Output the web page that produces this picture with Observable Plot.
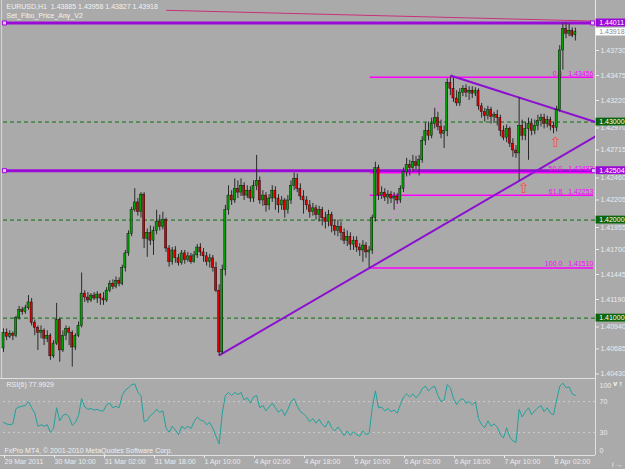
<!DOCTYPE html>
<html><head><meta charset="utf-8">
<script src="https://cdn.jsdelivr.net/npm/d3@7"></script>
<script src="https://cdn.jsdelivr.net/npm/@observablehq/plot@0.6"></script>
<style>
html,body{margin:0;padding:0;background:#aaaaaa;}
#chart{position:relative;width:625px;height:469px;background:#aaaaaa;overflow:hidden;}
#chart svg{position:absolute;left:0;}
</style></head><body><div id="chart"></div>
<script>
// ---- data (EURUSD H1, bar index 0 = 29 Mar 18:00) ----
const open = [
1.4069,1.4085,1.4081,1.4084,1.4082,1.4100,1.4108,1.4106,1.4110,1.4116,1.4095,1.4090,1.4085,1.4087,1.4079,1.4082,
1.4061,1.4074,1.4098,1.4067,1.4082,1.4089,1.4085,1.4070,1.4082,1.4092,1.4125,1.4121,1.4118,1.4123,1.4120,1.4124,
1.4120,1.4118,1.4128,1.4135,1.4132,1.4138,1.4135,1.4151,1.4166,1.4186,1.4210,1.4218,1.4208,1.4226,1.4181,1.4187,
1.4179,1.4189,1.4198,1.4193,1.4200,1.4171,1.4157,1.4169,1.4161,1.4156,1.4166,1.4159,1.4163,1.4157,1.4164,1.4172,
1.4167,1.4163,1.4157,1.4161,1.4151,1.4128,1.4065,1.4149,1.4210,1.4225,1.4220,1.4232,1.4228,1.4235,1.4225,1.4230,
1.4222,1.4235,1.4240,1.4220,1.4225,1.4215,1.4222,1.4230,1.4222,1.4215,1.4220,1.4210,1.4220,1.4235,1.4242,1.4232,
1.4224,1.4220,1.4215,1.4208,1.4212,1.4205,1.4210,1.4202,1.4198,1.4205,1.4194,1.4189,1.4193,1.4187,1.4179,1.4183,
1.4175,1.4179,1.4172,1.4169,1.4174,1.4167,1.4169,1.4202,1.4253,1.4225,1.4228,1.4223,1.4226,1.4222,1.4224,1.4220,
1.4232,1.4249,1.4256,1.4253,1.4259,1.4255,1.4261,1.4281,1.4291,1.4286,1.4298,1.4304,1.4295,1.4288,1.4291,1.4340,
1.4334,1.4324,1.4319,1.4330,1.4334,1.4330,1.4332,1.4329,1.4332,1.4316,1.4310,1.4306,1.4312,1.4305,1.4307,1.4304,
1.4291,1.4284,1.4293,1.4278,1.4271,1.4268,1.4296,1.4286,1.4293,1.4298,1.4291,1.4296,1.4301,1.4304,1.4298,1.4302,
1.4296,1.4294,1.4312,1.4373,1.4395,1.4390,1.4393,1.43885];
const high = [
1.4089,1.4089,1.4087,1.4086,1.4102,1.4112,1.4111,1.4113,1.4123,1.4120,1.4098,1.4092,1.4092,1.4089,1.4087,1.4084,
1.4077,1.4115,1.4100,1.4087,1.4092,1.4091,1.4087,1.4084,1.4096,1.4146,1.4128,1.4126,1.4125,1.4126,1.4127,1.4125,
1.4126,1.4131,1.4138,1.4139,1.4142,1.4141,1.4154,1.4169,1.4189,1.4213,1.4232,1.4222,1.4228,1.4228,1.4191,1.4194,
1.4193,1.4210,1.4205,1.4208,1.4202,1.4174,1.4172,1.4173,1.4165,1.4169,1.4169,1.4167,1.4166,1.4168,1.4175,1.4176,
1.4171,1.4167,1.4165,1.4164,1.4157,1.4134,1.4154,1.4215,1.4235,1.4230,1.4242,1.4240,1.4242,1.4238,1.4235,1.4234,
1.4240,1.4266,1.4244,1.4230,1.4228,1.4226,1.4235,1.4234,1.4226,1.4224,1.4222,1.4225,1.4240,1.4248,1.4247,1.4237,
1.4230,1.4224,1.4220,1.4217,1.4215,1.4214,1.4213,1.4208,1.4210,1.4208,1.4200,1.4200,1.4198,1.4191,1.4189,1.4187,
1.4183,1.4183,1.4176,1.4179,1.4177,1.4173,1.4205,1.4259,1.4256,1.4234,1.4232,1.4230,1.4229,1.4228,1.4227,1.4235,
1.4253,1.4263,1.4261,1.4266,1.4265,1.4266,1.4285,1.4299,1.4300,1.4304,1.4314,1.4310,1.4302,1.4296,1.4344,1.4346,
1.4345,1.4332,1.4334,1.4337,1.4338,1.4336,1.4336,1.4335,1.4334,1.4319,1.4314,1.4316,1.4315,1.4310,1.4312,1.4307,
1.4296,1.4297,1.4295,1.4283,1.4276,1.4325,1.4302,1.4300,1.4304,1.4303,1.4302,1.4307,1.4308,1.4308,1.4306,1.4305,
1.4300,1.4316,1.4378,1.4401,1.44011,1.4400,1.4396,1.43958];
const low = [
1.4065,1.4077,1.4079,1.4077,1.4080,1.4098,1.4103,1.4104,1.4108,1.4092,1.4082,1.4067,1.4079,1.4072,1.4075,1.4057,
1.4059,1.4072,1.4055,1.4065,1.4077,1.4072,1.4050,1.4067,1.4080,1.4090,1.4116,1.4115,1.4116,1.4118,1.4115,1.4113,
1.4113,1.4116,1.4126,1.4129,1.4130,1.4132,1.4133,1.4147,1.4163,1.4183,1.4208,1.4204,1.4202,1.4171,1.4162,1.4174,
1.4164,1.4185,1.4189,1.4190,1.4167,1.4152,1.4154,1.4156,1.4153,1.4154,1.4155,1.4157,1.4155,1.4156,1.4161,1.4163,
1.4157,1.4153,1.4151,1.4147,1.4126,1.4061,1.4063,1.4143,1.4205,1.4215,1.4217,1.4222,1.4224,1.4220,1.4222,1.4218,
1.4218,1.4230,1.4216,1.4214,1.4208,1.4210,1.4218,1.4210,1.4207,1.4210,1.4202,1.4206,1.4216,1.4230,1.4228,1.4220,
1.4206,1.4210,1.4202,1.4204,1.4200,1.4198,1.4194,1.4191,1.4193,1.4187,1.4184,1.4183,1.4179,1.4175,1.4173,1.4169,
1.4169,1.4167,1.4163,1.4157,1.4161,1.4151,1.4165,1.4198,1.4220,1.4221,1.4219,1.4216,1.4217,1.4210,1.4216,1.4217,
1.4228,1.4244,1.4245,1.4249,1.4251,1.4245,1.4258,1.4276,1.4281,1.4283,1.4293,1.4291,1.4283,1.4273,1.4285,1.4327,
1.4320,1.4316,1.4316,1.4326,1.4325,1.4322,1.4324,1.4326,1.4312,1.4304,1.4300,1.4302,1.4298,1.4300,1.4296,1.4285,
1.4281,1.4279,1.4274,1.4264,1.4263,1.4240,1.4281,1.4281,1.4261,1.4286,1.4287,1.4291,1.4295,1.4293,1.4294,1.4291,
1.4288,1.4290,1.4310,1.4353,1.4385,1.4387,1.4386,1.43827];
const close = [
1.4085,1.4081,1.4084,1.4082,1.4100,1.4108,1.4106,1.4110,1.4116,1.4095,1.4090,1.4085,1.4087,1.4079,1.4082,1.4061,
1.4074,1.4098,1.4067,1.4082,1.4089,1.4085,1.4070,1.4082,1.4092,1.4125,1.4121,1.4118,1.4123,1.4120,1.4124,1.4120,
1.4118,1.4128,1.4135,1.4132,1.4138,1.4135,1.4151,1.4166,1.4186,1.4210,1.4218,1.4208,1.4226,1.4181,1.4187,1.4179,
1.4189,1.4198,1.4193,1.4200,1.4171,1.4157,1.4169,1.4161,1.4156,1.4166,1.4159,1.4163,1.4157,1.4164,1.4172,1.4167,
1.4163,1.4157,1.4161,1.4151,1.4128,1.4065,1.4149,1.4210,1.4225,1.4220,1.4232,1.4228,1.4235,1.4225,1.4230,1.4222,
1.4235,1.4240,1.4220,1.4225,1.4215,1.4222,1.4230,1.4222,1.4215,1.4220,1.4210,1.4220,1.4235,1.4242,1.4232,1.4224,
1.4220,1.4215,1.4208,1.4212,1.4205,1.4210,1.4202,1.4198,1.4205,1.4194,1.4189,1.4193,1.4187,1.4179,1.4183,1.4175,
1.4179,1.4172,1.4169,1.4174,1.4167,1.4169,1.4202,1.4253,1.4225,1.4228,1.4223,1.4226,1.4222,1.4224,1.4220,1.4232,
1.4249,1.4256,1.4253,1.4259,1.4255,1.4261,1.4281,1.4291,1.4286,1.4298,1.4304,1.4295,1.4288,1.4291,1.4340,1.4334,
1.4324,1.4319,1.4330,1.4334,1.4330,1.4332,1.4329,1.4332,1.4316,1.4310,1.4306,1.4312,1.4305,1.4307,1.4304,1.4291,
1.4284,1.4293,1.4278,1.4271,1.4268,1.4296,1.4286,1.4293,1.4298,1.4291,1.4296,1.4301,1.4304,1.4298,1.4302,1.4296,
1.4294,1.4312,1.4373,1.4395,1.4390,1.4393,1.4388,1.43918];
const rsi = [
43,41,40,41,61,63,64,65,70,62,55,38,40,38,40,30,
35,62,45,52,54,50,39,43,52,74,63,60,61,59,60,58,
58,66,68,62,64,62,78,85,88,92,93,82,78,44,46,52,
55,60,56,58,36,30,38,33,27,38,35,38,35,44,50,46,
45,40,43,35,25,15,55,78,82,78,82,79,82,72,75,68,
76,78,62,65,58,63,68,62,56,60,52,60,70,74,64,57,
54,50,44,48,42,47,40,37,45,36,32,37,32,26,32,26,
31,27,25,32,27,29,62,84,62,63,58,61,57,59,55,66,
76,80,76,80,75,79,87,90,84,88,90,78,70,72,92,88,
74,66,72,74,68,70,66,70,48,40,36,45,38,41,37,27,
23,36,24,19,17,60,50,57,62,53,58,62,65,57,62,55,
53,72,90,94,88,89,80,77.9929];

const xTickIdx = [0,16,32,48,64,80,96,112,128,144,160,176];
const xLabels = ["29 Mar 2011","30 Mar 10:00","31 Mar 02:00","31 Mar 18:00","1 Apr 10:00","4 Apr 02:00",
  "4 Apr 18:00","5 Apr 10:00","6 Apr 02:00","6 Apr 18:00","7 Apr 10:00","8 Apr 02:00"];
const yTicks = [1.43730,1.43475,1.43220,1.42715,1.42205,1.41700,1.41445,1.41190,1.40685,1.40430];
const yTicksUnderBox = [1.42970,1.42460,1.41955,1.40940];
const roundLevels = [1.43, 1.42, 1.41];
const hLevels = [1.44011, 1.42504];
const fibPct = ["0.0","50.0","61.8","100.0"];
const fibPrice = [1.43456, 1.42483, 1.42253, 1.41510];
const rsiLevels = [30, 70];
const title = "EURUSD,H1  1.43885 1.43958 1.43827 1.43918\nSet_Fibo_Price_Any_V2";
const rsiTitle = "RSI(6) 77.9929";
const copyright = "FxPro MT4, \u00a9 2001-2010 MetaQuotes Software Corp.";

// ---- layout helpers ----
const xMax = 189.44;
const yTop = 1.4424, yBottom = 1.40384;
const purple = "#9a0ad6";
const magenta = "#ff00ff";
const light = "#ececec";
const font = "Liberation Sans, Arial, sans-serif";

const bars = close.map((c, i) => ({i, o: open[i], h: high[i], l: low[i], c, up: c >= open[i]}));
const trendLines = [
  {x1: 69, y1: 1.40619, x2: xMax, y2: 1.42853},
  {x1: 143, y1: 1.43475, x2: xMax, y2: 1.43000}
];
const topLine = [{x1: 52, y1: 1.44140, x2: 188, y2: 1.44031}];
const fibConnector = [{x1: 117.8, y1: 1.41510, x2: 143, y2: 1.43456}];
const fibs = fibPct.map((pct, k) => ({pct, p: fibPrice[k]}));
const fibStart = 117.4, fibEnd = 188.8;
const arrows = [{i: 166.4, p: 1.42322}, {i: 176.6, p: 1.42792}];
const squares = [{i: 0.3, p: 1.44011}, {i: 188.5, p: 1.44011}, {i: 0.3, p: 1.42504}, {i: 188.8, p: 1.42504}];
const boxes = [
  {p: 1.44011, bg: purple, fg: "#ffffff"},
  {p: 1.43918, bg: "#ffffff", fg: "#8a8a8a"},
  {p: 1.43000, bg: "#0a640a", fg: "#ffffff"},
  {p: 1.42504, bg: purple, fg: "#ffffff"},
  {p: 1.42000, bg: "#0a640a", fg: "#ffffff"},
  {p: 1.41000, bg: "#0a640a", fg: "#ffffff"}
];

const main = Plot.plot({
  width: 625, height: 378,
  marginLeft: 3, marginRight: 30, marginTop: 0, marginBottom: 0,
  style: {background: "transparent", overflow: "visible", fontFamily: font, fontSize: "7px", color: light},
  x: {domain: [0, xMax], axis: null},
  y: {domain: [yBottom, yTop], axis: null},
  marks: [
    Plot.ruleX([-0.6], {stroke: "#d8d8d8", strokeWidth: 1}),
    Plot.ruleY(roundLevels, {stroke: "#0b6e0b", strokeDasharray: "4,3", strokeWidth: 1}),
    Plot.link(topLine, {x1: "x1", y1: "y1", x2: "x2", y2: "y2", stroke: "#c8307a", strokeWidth: 1}),
    Plot.ruleY(hLevels, {x1: 0, x2: 188.8, stroke: purple, strokeWidth: 3}),
    Plot.ruleY(fibs, {y: "p", x1: fibStart, x2: fibEnd, stroke: magenta, strokeWidth: 1.5}),
    Plot.text(fibs, {x: fibEnd, y: "p", text: d => d.pct + "   " + d.p.toFixed(5), textAnchor: "end", dy: -4, fill: magenta, fontSize: 7}),
    Plot.link(fibConnector, {x1: "x1", y1: "y1", x2: "x2", y2: "y2", stroke: "#ff70ff", strokeDasharray: "2,3", strokeWidth: 1}),
    Plot.link(trendLines, {x1: "x1", y1: "y1", x2: "x2", y2: "y2", stroke: "#8c10d0", strokeWidth: 2}),
    Plot.ruleX(bars, {x: "i", y1: "l", y2: "h", stroke: "#2a2a2a", strokeWidth: 1}),
    Plot.rect(bars, {
      x1: d => d.i - 0.34, x2: d => d.i + 0.34,
      y1: "o", y2: d => (d.c === d.o ? d.o + 0.00008 : d.c),
      fill: d => (d.up ? "#00a000" : "#e00000"), stroke: "#000", strokeWidth: 0.4
    }),
    Plot.text(arrows, {x: "i", y: "p", text: () => "\u21E7", fill: "#ff4848", fontSize: 14, fontFamily: "DejaVu Sans"}),
    Plot.dot(squares, {x: "i", y: "p", symbol: "square", r: 2.3, fill: "#e8c0ff", stroke: purple, strokeWidth: 1}),
    Plot.ruleX([xMax], {stroke: "#e6e6e6", strokeWidth: 1}),
    Plot.axisY({anchor: "right", ticks: yTicks, tickFormat: d => d.toFixed(5), tickSize: 3, tickPadding: 2, fontSize: 7}),
    Plot.axisY({anchor: "right", ticks: yTicksUnderBox, tickFormat: d => d.toFixed(5), tickSize: 3, tickPadding: 2, fontSize: 7, dy: 3}),
    Plot.rect(boxes, {x1: xMax + 0.2, x2: xMax + 12, y1: d => d.p - 0.0004, y2: d => d.p + 0.0004, fill: "bg"}),
    Plot.text(boxes, {x: xMax + 1.2, y: "p", text: d => d.p.toFixed(5), textAnchor: "start", fill: "fg", fontSize: 7}),
    Plot.text([title], {frameAnchor: "top-left", dx: 3, dy: 2, lineAnchor: "top", lineHeight: 1.3, fill: "#f2f2f2", fontSize: 7})
  ]
});
main.style.top = "0px";

const rsiPts = rsi.map((v, i) => ({i, v}));
const sub = Plot.plot({
  width: 625, height: 91,
  marginLeft: 3, marginRight: 30, marginTop: 0, marginBottom: 14,
  style: {background: "transparent", overflow: "visible", fontFamily: font, fontSize: "7px", color: light},
  x: {domain: [0, xMax], axis: null},
  y: {domain: [0, 100], axis: null},
  marks: [
    Plot.ruleY(rsiLevels, {stroke: "#cdcdcd", strokeDasharray: "2,3", strokeWidth: 1}),
    Plot.line(rsiPts, {x: "i", y: "v", stroke: "#1fa39c", strokeWidth: 1}),
    Plot.ruleY([0, 100], {x1: -1, x2: xMax, stroke: "#e0e0e0", strokeWidth: 1}),
    Plot.ruleX([xMax], {y1: 0, y2: 100, stroke: "#e0e0e0", strokeWidth: 1}),
    Plot.axisY({anchor: "right", ticks: rsiLevels, tickSize: 0, tickPadding: 4, fontSize: 7}),
    Plot.axisY({anchor: "right", ticks: [100], tickSize: 0, tickPadding: 4, dy: 7, fontSize: 7}),
    Plot.axisY({anchor: "right", ticks: [0], tickSize: 0, tickPadding: 4, dy: -5, fontSize: 7}),
    Plot.axisX({anchor: "bottom", ticks: xTickIdx, tickFormat: d => xLabels[xTickIdx.indexOf(d)],
      tickSize: 3, tickPadding: 1, textAnchor: "start", dx: 1, fontSize: 7}),
    Plot.text([rsiTitle], {frameAnchor: "top-left", dx: 3, dy: 4, lineAnchor: "top", fill: "#f0f0f0", fontSize: 7}),
    Plot.text([copyright], {frameAnchor: "bottom-left", dx: 1, dy: -3, lineAnchor: "bottom", fill: "#f0f0f0", fontSize: 7})
  ]
});
sub.style.top = "378px";

const host = document.getElementById("chart");
host.appendChild(main);
host.appendChild(sub);
</script></body></html>
